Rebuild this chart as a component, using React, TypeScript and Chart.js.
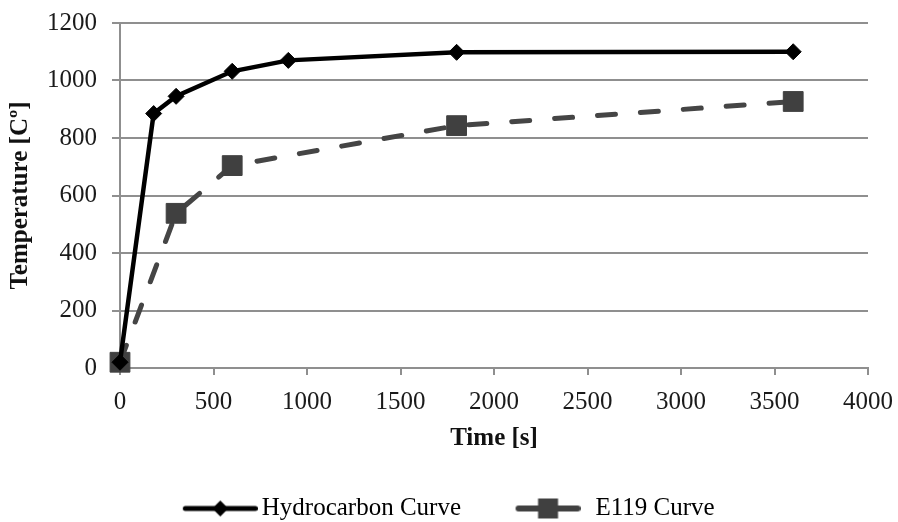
import { useEffect, useRef } from "react";
import { Chart, registerables } from "chart.js";

Chart.register(...registerables);

// ---- data ----
const hydrocarbonTime = [0, 180, 300, 600, 900, 1800, 3600];
const hydrocarbonTemp = [20, 885, 945, 1032, 1070, 1098, 1100];
const e119Time = [0, 300, 600, 1800, 3600];
const e119Temp = [20, 538, 704, 843, 927];
const seriesNames = ["Hydrocarbon Curve", "E119 Curve"];
const xTickValues = [0, 500, 1000, 1500, 2000, 2500, 3000, 3500, 4000];
const yTickValues = [0, 200, 400, 600, 800, 1000, 1200];
const xTitle = "Time [s]";
const yTitle = "Temperature [Cº]";

const FONT = "'Liberation Serif', 'Times New Roman', serif";
const GRID = "#8f8f8f";

function makeIcon(
  imgWidth: number,
  start: number,
  end: number,
  lineColor: string,
  lineWidth: number,
  marker: "diamond" | "square",
  size: number
): HTMLCanvasElement {
  const c = document.createElement("canvas");
  c.width = imgWidth;
  c.height = 26;
  const ctx = c.getContext("2d")!;
  const cy = 13;
  ctx.strokeStyle = lineColor;
  ctx.lineWidth = lineWidth;
  ctx.lineCap = "round";
  ctx.beginPath();
  ctx.moveTo(start + lineWidth / 2, cy);
  ctx.lineTo(end - lineWidth / 2, cy);
  ctx.stroke();
  ctx.fillStyle = lineColor;
  const cx = (start + end) / 2;
  ctx.beginPath();
  if (marker === "diamond") {
    ctx.moveTo(cx - size, cy);
    ctx.lineTo(cx, cy - size);
    ctx.lineTo(cx + size, cy);
    ctx.lineTo(cx, cy + size);
    ctx.closePath();
  } else {
    ctx.rect(cx - size, cy - size, size * 2, size * 2);
  }
  ctx.fill();
  return c;
}

export default function App() {
  const ref = useRef<HTMLCanvasElement | null>(null);

  useEffect(() => {
    document.body.style.margin = "0";
    const canvas = ref.current;
    if (!canvas) return;
    const icons = [
      makeIcon(113, 38, 113, "#000000", 5, "diamond", 8),
      makeIcon(91, 26, 91, "#404040", 6, "square", 10),
    ];
    const chart = new Chart(canvas, {
      type: "line",
      data: {
        datasets: [
          {
            label: seriesNames[0],
            data: hydrocarbonTime.map((t, i) => ({ x: t, y: hydrocarbonTemp[i] })),
            borderColor: "#000000",
            backgroundColor: "#000000",
            borderWidth: 4.5,
            pointStyle: "rectRot",
            pointRadius: 8,
            pointBackgroundColor: "#000000",
            pointBorderColor: "#000000",
            pointBorderWidth: 1,
            tension: 0,
            clip: false as any,
          },
          {
            label: seriesNames[1],
            data: e119Time.map((t, i) => ({ x: t, y: e119Temp[i] })),
            borderColor: "#454545",
            backgroundColor: "#404040",
            borderWidth: 5,
            borderDash: [18, 25],
            borderCapStyle: "round",
            pointStyle: "rect",
            pointRadius: 14,
            pointBackgroundColor: "#404040",
            pointBorderColor: "#404040",
            pointBorderWidth: 1,
            tension: 0,
            clip: false as any,
          },
        ],
      },
      options: {
        animation: false,
        responsive: false,
        events: [],
        layout: { padding: { top: 23, right: 30, bottom: -9, left: 0 } },
        plugins: {
          tooltip: { enabled: false },
          legend: {
            display: true,
            position: "bottom",
            labels: {
              usePointStyle: true,
              pointStyleWidth: 96,
              padding: 26,
              color: "#1a1a1a",
              font: { family: FONT, size: 25 },
              generateLabels: (ch: any) =>
                ch.data.datasets.map((ds: any, i: number) => ({
                  text: ds.label,
                  pointStyle: icons[i],
                  fillStyle: "transparent",
                  strokeStyle: "transparent",
                  lineWidth: 0,
                  hidden: false,
                  datasetIndex: i,
                })),
            },
          },
        },
        scales: {
          x: {
            type: "linear",
            min: 0,
            max: 4000,
            afterBuildTicks: (s: any) => {
              s.ticks = xTickValues.map((v) => ({ value: v }));
            },
            afterFit: (s: any) => {
              s.height = 102;
              s.paddingLeft = 0;
              s.paddingRight = 0;
            },
            ticks: {
              color: "#1a1a1a",
              font: { family: FONT, size: 25 },
              padding: 12,
              maxRotation: 0,
              callback: (v: any) => String(v),
            },
            grid: {
              display: true,
              drawOnChartArea: false,
              drawTicks: true,
              tickLength: 7,
              color: GRID,
              lineWidth: 2,
            },
            border: { display: true, color: GRID, width: 2 },
            title: {
              display: true,
              text: xTitle,
              color: "#111",
              font: { family: FONT, size: 25, weight: "bold" },
              padding: { top: 0, bottom: 16.5 },
            },
          },
          y: {
            type: "linear",
            min: 0,
            max: 1200,
            afterBuildTicks: (s: any) => {
              s.ticks = yTickValues.map((v) => ({ value: v }));
            },
            afterFit: (s: any) => {
              s.width = 120;
              s.paddingTop = 0;
              s.paddingBottom = 0;
            },
            ticks: {
              color: "#1a1a1a",
              font: { family: FONT, size: 25 },
              padding: 15,
              callback: (v: any) => String(v),
            },
            grid: {
              display: true,
              drawOnChartArea: true,
              drawTicks: true,
              tickLength: 8,
              color: GRID,
              lineWidth: 2,
            },
            border: { display: true, color: GRID, width: 2 },
            title: {
              display: true,
              text: yTitle,
              color: "#111",
              font: { family: FONT, size: 25, weight: "bold" },
              padding: { top: 5.5, bottom: 0 },
            },
          },
        },
      },
    } as any);
    return () => chart.destroy();
  }, []);

  return (
    <div style={{ width: 898, height: 522 }}>
      <canvas ref={ref} width={898} height={522} style={{ display: "block" }} />
    </div>
  );
}
